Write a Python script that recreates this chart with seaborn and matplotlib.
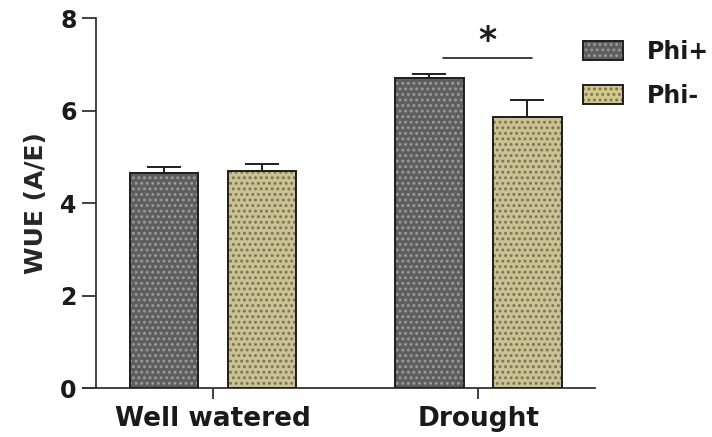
import matplotlib
matplotlib.use("Agg")
import matplotlib.pyplot as plt
from matplotlib.patches import Rectangle
from matplotlib.legend_handler import HandlerTuple
import pandas as pd
import seaborn as sns

# data
conditions = ["Well watered", "Drought"]
treatments = ["Phi+", "Phi-"]
phi_plus = [4.65, 6.70]
phi_minus = [4.70, 5.86]
sem_plus = [0.13, 0.09]
sem_minus = [0.15, 0.37]

fill_colors = {"Phi+": "#5e5e5e", "Phi-": "#d3c78b"}
dot_colors = {"Phi+": "#9c9c9c", "Phi-": "#7d724a"}
edge = "#1e1e1e"

df = pd.DataFrame({
    "Condition": conditions * 2,
    "Treatment": [treatments[0]] * 2 + [treatments[1]] * 2,
    "WUE": phi_plus + phi_minus,
})
errors = {"Phi+": sem_plus, "Phi-": sem_minus}

sns.set_style("ticks")
plt.rcParams["font.family"] = ["DejaVu Sans"]
plt.rcParams["font.weight"] = "bold"
plt.rcParams["hatch.linewidth"] = 1.3
plt.rcParams["text.color"] = "#1a1a1a"
plt.rcParams["xtick.labelcolor"] = "#1a1a1a"
plt.rcParams["ytick.labelcolor"] = "#1a1a1a"

fig = plt.figure(figsize=(7.12, 4.37), dpi=100)
ax = fig.add_axes([0.1166, 0.1121, 0.719, 0.8467])

sns.barplot(
    data=df,
    x="Condition",
    y="WUE",
    hue="Treatment",
    hue_order=treatments,
    palette=fill_colors,
    width=0.74,
    gap=0.3,
    errorbar=None,
    legend=False,
    ax=ax,
)

for treatment, container in zip(treatments, ax.containers):
    for bar, err in zip(container, errors[treatment]):
        bar.set_hatch("...")
        bar.set_edgecolor(dot_colors[treatment])
        bar.set_linewidth(0)
        ax.add_patch(Rectangle(
            bar.get_xy(), bar.get_width(), bar.get_height(),
            fill=False, edgecolor=edge, linewidth=1.4, zorder=3,
        ))
        xc = bar.get_x() + bar.get_width() / 2
        ax.errorbar(
            xc, bar.get_height(), yerr=[[0], [err]],
            color=edge, capsize=12, elinewidth=1.4, capthick=1.4,
            zorder=2,
        )

# significance marker over drought
ax.plot([0.868, 1.204], [7.13, 7.13], color=edge, lw=1.2)
ax.text(1.034, 7.5, "*", ha="center", va="center", fontsize=25,
        fontweight="bold", color=edge)

ax.set_xlim(-0.49, 1.44)
ax.set_ylim(0, 8)
ax.set_yticks([0, 2, 4, 6, 8])
ax.spines["left"].set_position(("data", -0.44))
ax.spines["left"].set_bounds(0, 8)
sns.despine(ax=ax)
for side in ["left", "bottom"]:
    ax.spines[side].set_linewidth(1.3)
    ax.spines[side].set_color("#333333")
ax.tick_params(axis="y", length=10, width=1.3, labelsize=17, pad=4,
               color="#333333")
ax.tick_params(axis="x", length=8, width=1.3, labelsize=19, pad=5,
               color="#333333")
for lab in ax.get_xticklabels() + ax.get_yticklabels():
    lab.set_fontweight("bold")

ax.set_xlabel("")
ax.set_ylabel("WUE (A/E)", fontsize=18, fontweight="bold", labelpad=9)

handles = []
for t in treatments:
    dots = Rectangle((0, 0), 1, 1, facecolor=fill_colors[t], hatch="...",
                     edgecolor=dot_colors[t], linewidth=0)
    outline = Rectangle((0, 0), 1, 1, fill=False, edgecolor=edge,
                        linewidth=1.4)
    handles.append((dots, outline))

fig.legend(
    handles, treatments,
    handler_map={tuple: HandlerTuple(ndivide=1, pad=0)},
    loc="upper left",
    bbox_to_anchor=(583 / 712, 1 - 40 / 437),
    frameon=False,
    handlelength=1.7,
    handleheight=0.85,
    handletextpad=1.0,
    labelspacing=0.85,
    borderpad=0,
    borderaxespad=0,
    prop={"weight": "bold", "size": 17},
)

fig.savefig("out.png", dpi=100)
